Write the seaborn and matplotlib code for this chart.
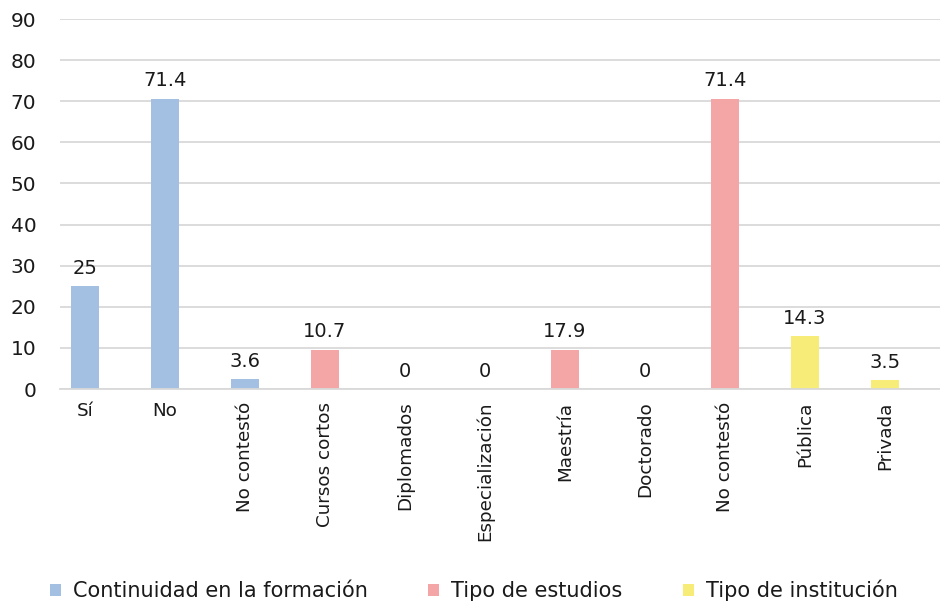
import matplotlib
matplotlib.use("Agg")
import matplotlib.pyplot as plt
import seaborn as sns
import pandas as pd

categories = ["Sí", "No", "No contestó", "Cursos cortos", "Diplomados",
              "Especialización", "Maestría", "Doctorado", "No contestó",
              "Pública", "Privada"]
groups = (["Continuidad en la formación"] * 3
          + ["Tipo de estudios"] * 6
          + ["Tipo de institución"] * 2)
# bar heights as drawn in the picture
bar_values = [25, 70.6, 2.4, 9.6, 0, 0, 9.6, 0, 70.6, 12.9, 2.2]
# numbers printed above the bars
value_labels = ["25", "71.4", "3.6", "10.7", "0", "0", "17.9", "0", "71.4", "14.3", "3.5"]
group_names = ["Continuidad en la formación", "Tipo de estudios", "Tipo de institución"]
colors = ["#A3C0E3", "#F4A6A6", "#F7EC78"]

df = pd.DataFrame({"pos": range(len(categories)), "cat": categories,
                   "grupo": groups, "valor": bar_values, "etiqueta": value_labels})

sns.set_theme(style="white")
plt.rcParams["font.family"] = ["DejaVu Sans"]
txt = "#1a1a1a"

fig = plt.figure(figsize=(9.4, 6.05), dpi=100)
ax = fig.add_axes([0.0638, 0.357, 0.9362, 0.6115])

sns.barplot(data=df, x="pos", y="valor", hue="grupo", hue_order=group_names,
            palette=colors, dodge=False, width=0.35, saturation=1,
            linewidth=0, ax=ax)

# number on top of each bar
for cont, g in zip(ax.containers, group_names):
    labs = df.loc[df["grupo"] == g, "etiqueta"].tolist()
    ax.bar_label(cont, labels=labs, padding=6, fontsize=14, color=txt)

ax.set_ylim(0, 90)
ax.set_yticks(range(0, 91, 10))
ax.set_xlim(-0.31, 10.69)
ax.yaxis.grid(True, color="#d9d9d9", linewidth=1.3)
ax.set_axisbelow(True)
for s in ["top", "right", "left"]:
    ax.spines[s].set_visible(False)
ax.spines["bottom"].set_color("#d9d9d9")
ax.spines["bottom"].set_linewidth(1.3)

ax.set_xticks(range(len(categories)))
ax.set_xticklabels(categories)
for lbl, c in zip(ax.get_xticklabels(), categories):
    if c not in ("Sí", "No"):
        lbl.set_rotation(90)
ax.tick_params(axis="x", length=0, pad=9, labelsize=13.2, labelcolor=txt)
ax.tick_params(axis="y", length=0, pad=17, labelsize=14.5, labelcolor=txt)
ax.set_xlabel("")
ax.set_ylabel("")

sns.move_legend(ax, "lower center", bbox_to_anchor=(0.47, -0.625), ncol=3,
                frameon=False, title=None, fontsize=15, handlelength=0.55,
                handleheight=0.55, handletextpad=0.55, columnspacing=2.9)
for t in ax.get_legend().get_texts():
    t.set_color(txt)

fig.savefig("out.png", dpi=100)
